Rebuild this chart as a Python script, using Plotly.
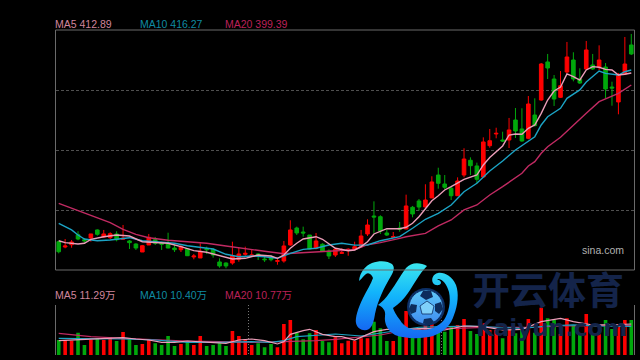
import base64
import plotly.graph_objects as go

# ---- price candles (one entry per trading day) ----
opens = [223.1,217.1,219.7,231.0,225.3,227.3,236.3,228.4,227.6,231.8,225.8,223.9,220.5,211.5,219.4,225.3,221.6,220.5,216.0,214.1,
         215.2,205.9,204.8,215.2,214.5,200.3,199.1,199.1,203.3,208.9,207.3,209.3,203.6,205.1,201.0,201.4,219.4,238.5,234.0,230.6,
         215.7,220.2,212.6,208.1,210.0,213.8,214.5,217.5,231.8,252.0,251.2,232.9,228.0,238.5,237.4,261.8,268.9,262.1,272.3,298.1,
         288.0,283.2,274.8,298.1,314.7,308.3,295.9,331.1,344.3,337.5,337.5,360.0,349.9,339.4,365.6,382.5,425.3,406.1,385.5,414.0,
         427.5,406.1,417.4,421.9,419.6,419.6,397.1,380.3,411.8,444.4]
highs = [224.2,226.1,225.0,234.8,226.9,231.8,237.0,236.3,233.7,234.8,241.9,225.0,221.3,219.4,231.8,228.4,223.1,233.2,220.2,219.4,
         216.0,209.3,221.3,217.5,215.7,204.4,199.9,223.1,216.3,217.5,213.8,210.0,206.2,207.8,204.8,223.9,247.2,240.0,240.0,230.6,
         232.9,221.3,214.5,215.7,215.7,215.7,223.1,236.3,248.3,268.5,252.8,237.0,234.0,245.3,276.0,263.3,271.1,287.7,296.7,306.3,
         298.1,285.0,295.5,328.2,318.0,312.0,340.5,349.9,351.3,346.8,362.3,373.5,373.2,387.0,384.4,424.1,434.3,410.6,415.1,447.8,
         436.2,418.2,448.9,434.3,444.0,424.1,403.1,412.9,453.4,456.8]
lows = [210.0,215.7,216.3,224.7,222.0,223.1,229.8,227.6,226.1,223.5,225.0,214.9,213.8,211.5,219.4,219.4,213.8,215.7,211.5,211.5,
        207.0,203.3,204.8,209.3,205.1,193.8,193.2,197.2,200.6,207.3,207.0,202.5,200.3,201.0,197.2,199.5,218.6,230.6,228.7,214.5,
        214.5,212.3,203.6,205.9,209.3,207.3,214.5,216.8,229.5,232.5,231.8,229.5,228.0,234.3,237.0,250.5,258.0,261.8,272.3,282.7,
        282.0,270.0,274.5,295.5,298.1,288.8,295.9,328.8,339.4,335.3,328.5,339.8,335.6,338.3,352.5,381.7,406.1,375.8,384.8,412.5,
        403.5,400.5,416.3,416.3,416.3,384.4,376.1,366.4,410.6,433.1]
closes = [211.8,218.3,222.8,226.1,223.9,231.8,231.4,231.8,232.1,225.3,226.9,222.0,216.0,218.6,228.0,221.3,220.2,216.0,214.1,217.5,
          207.3,207.0,212.3,214.1,208.1,195.8,195.8,207.3,209.3,210.0,208.1,207.3,202.8,202.8,201.7,218.3,236.3,232.9,232.9,214.9,
          223.9,212.6,207.0,214.5,210.7,214.5,217.5,229.5,241.9,250.9,235.1,230.6,228.7,237.0,263.3,254.3,262.1,270.0,290.3,288.8,
          284.3,274.8,291.4,316.1,308.6,293.3,335.3,336.7,345.0,336.4,348.8,347.6,336.4,378.0,353.8,423.0,418.5,383.6,398.6,430.9,
          406.1,401.6,438.8,417.4,427.5,394.9,396.0,410.6,423.0,434.3]

# ---- price moving averages: (day index, value) ----
ma5_days = [0,1,3,4,5,7,9,11,13,15,17,19,21,23,25,27,29,31,33,34,35,36,37,38,40,41,43,45,46,47,48,49,51,53,54,55,56,57,58,59,60,
            61,62,63,65,66,67,68,69,70,71,72,73,74,75,76,77,78,79,80,81,82,83,84,85,86,87,88,89]
ma5_vals = [224.2,222.0,220.5,221.3,225.8,228.7,230.6,229.5,223.1,222.4,221.3,217.5,213.0,211.2,207.0,203.6,204.4,208.1,207.0,204.4,
            208.1,215.7,221.3,226.1,228.7,225.8,215.7,213.0,213.8,217.5,223.1,231.8,237.7,237.7,239.3,243.8,251.2,260.7,269.2,274.8,
            281.3,285.0,288.8,293.3,298.1,309.4,317.8,324.3,330.8,343.1,344.3,343.9,350.7,354.4,367.5,382.5,392.6,397.1,411.8,408.7,
            405.0,416.3,420.0,419.3,417.0,416.3,410.6,411.4,412.89]
ma10_days = [0,2,3,4,6,8,11,13,15,18,20,22,24,26,28,30,32,34,36,38,40,42,44,46,48,50,52,53,55,57,59,61,63,65,67,69,71,73,74,75,76,
             78,79,81,82,84,85,87,88,89]
ma10_vals = [243.8,236.3,230.6,226.1,224.2,225.0,227.6,224.2,223.1,221.3,218.6,216.8,214.9,208.9,206.2,207.0,206.2,204.4,210.0,214.5,
             215.7,219.4,221.3,219.2,219.4,224.2,226.9,228.7,238.2,248.3,255.0,264.4,279.3,288.8,302.6,313.9,326.3,335.6,341.2,354.4,
             363.7,373.2,384.4,393.8,402.8,415.1,412.5,410.6,414.3,416.27]
ma20_days = [0,3,5,8,10,12,14,17,20,23,26,29,32,35,38,41,44,46,48,50,53,54,57,59,61,63,65,67,69,72,73,74,75,76,78,80,82,84,87,89]
ma20_vals = [266.3,258.0,252.0,244.5,237.0,231.4,227.6,224.7,223.1,221.3,218.3,215.7,212.3,209.6,210.7,212.3,212.6,214.1,219.7,222.0,
             226.9,228.7,232.5,240.8,247.5,258.8,264.4,275.6,285.0,300.0,308.3,313.1,322.5,330.0,340.5,354.4,367.5,380.6,390.0,399.39]

# ---- volume, in units of 10 000 ----
volumes = [5.46,5.46,5.22,8.13,3.64,5.46,6.07,5.46,6.43,5.10,8.38,5.71,3.64,4.01,5.46,4.25,3.64,6.92,3.28,4.01,
           4.61,3.64,6.92,3.28,3.64,4.25,3.28,8.74,6.92,5.71,3.64,4.25,2.79,4.01,2.79,11.29,12.75,8.13,5.71,7.89,
           9.11,5.10,4.61,6.43,4.25,5.22,5.22,6.07,6.07,12.14,9.71,5.10,5.10,6.92,16.02,9.11,9.71,11.53,11.53,10.56,
           8.50,10.32,10.93,13.11,8.74,7.65,11.53,9.11,9.11,6.07,9.11,7.89,9.11,13.11,8.13,17.24,13.35,12.75,7.65,13.35,
           10.93,7.28,14.93,7.89,8.13,12.75,9.47,10.93,12.75,12.75]
vma5_days = [0,2,4,7,10,12,14,16,18,20,23,26,28,30,32,34,35,36,38,39,41,43,44,46,49,51,54,57,60,63,66,69,72,75,78,80,83,86,89]
vma5_vals = [5.22,5.46,5.83,6.07,6.31,5.83,5.46,4.61,4.61,5.10,4.61,4.25,5.46,5.83,5.22,4.01,4.86,7.53,8.86,9.35,7.53,6.68,6.68,5.46,
             8.50,9.35,9.35,9.71,9.10,10.56,10.32,9.10,9.35,12.14,13.35,12.14,10.93,10.93,11.29]
vma10_days = [0,5,10,15,20,25,30,33,35,37,40,43,47,50,53,56,60,64,68,72,76,80,84,89]
vma10_vals = [6.07,6.07,5.83,5.46,4.61,4.61,4.86,4.61,5.22,6.68,7.04,7.65,6.92,7.89,9.10,10.10,10.30,10.56,10.10,9.71,10.56,10.93,10.56,10.40]
vma20_days = [0,5,10,15,20,25,30,35,40,43,47,50,54,58,62,66,70,74,78,84,89]
vma20_vals = [7.89,6.68,6.07,5.46,5.10,4.86,4.61,4.86,5.22,5.71,6.68,7.28,9.10,9.71,9.71,10.08,10.08,10.08,10.56,10.56,10.77]

days = list(range(len(closes)))
RED, GREEN = "#fe0000", "#00a80c"
C5, C10, C20 = "#eb9db8", "#1ba3c4", "#c02a62"
T5, T10, T20 = "#d0859c", "#0f8ba3", "#bb2058"
GRID = "#505050"
FRAME = "#6a6a6a"

fig = go.Figure()
fig.add_trace(go.Candlestick(
    x=days, open=opens, high=highs, low=lows, close=closes, whiskerwidth=0,
    increasing=dict(line=dict(color=RED, width=1), fillcolor=RED),
    decreasing=dict(line=dict(color=GREEN, width=1), fillcolor=GREEN),
    xaxis="x", yaxis="y"))
for d, v, c in [(ma20_days, ma20_vals, C20), (ma10_days, ma10_vals, C10), (ma5_days, ma5_vals, C5)]:
    fig.add_trace(go.Scatter(x=d, y=v, mode="lines", line=dict(color=c, width=1.4), xaxis="x", yaxis="y"))

fig.add_trace(go.Bar(x=days, y=volumes, width=0.56,
                     marker=dict(color=[RED if c >= o else GREEN for o, c in zip(opens, closes)], line=dict(width=0)),
                     xaxis="x2", yaxis="y2"))
for d, v, c in [(vma20_days, vma20_vals, C20), (vma10_days, vma10_vals, C10), (vma5_days, vma5_vals, C5)]:
    fig.add_trace(go.Scatter(x=d, y=v, mode="lines", line=dict(color=c, width=1.2), xaxis="x2", yaxis="y2"))

DX = [55.5 / 640, 634.5 / 640]
fig.update_layout(
    width=640, height=360, margin=dict(l=0, r=0, t=0, b=0), autosize=False,
    paper_bgcolor="#000", plot_bgcolor="#000", showlegend=False, boxgap=0.2,
    xaxis=dict(domain=DX, range=[-0.5, 89.5], rangeslider=dict(visible=False), showgrid=False, zeroline=False,
               showticklabels=False, ticks=""),
    yaxis=dict(domain=[90 / 360, 330 / 360], range=[191.25, 461.25], tickvals=[258.75, 326.25, 393.75],
               showticklabels=False, ticks="", zeroline=False, showgrid=True, gridcolor=GRID, griddash="3px,2px", gridwidth=1),
    xaxis2=dict(domain=DX, range=[-0.5, 89.5], anchor="y2", tickvals=[29.5, 59.5], showticklabels=False, ticks="",
                zeroline=False, showgrid=True, gridcolor="#777", griddash="1px,2px", gridwidth=1),
    yaxis2=dict(domain=[5 / 360, 55 / 360], range=[0, 18.2], anchor="x2", tickvals=[0, 18.2], showticklabels=False, ticks="",
                zeroline=False, showgrid=True, gridcolor="#777", griddash="1px,2px", gridwidth=1),
)

# frames
fig.add_shape(type="rect", xref="paper", yref="paper", x0=DX[0], x1=DX[1], y0=90 / 360, y1=330 / 360,
              line=dict(color=FRAME, width=1))
for px in DX:
    fig.add_shape(type="line", xref="paper", yref="paper", x0=px, x1=px, y0=5 / 360, y1=55 / 360,
                  line=dict(color=FRAME, width=1))


def label(text, px, py, color, size=10.5, family="Liberation Sans, Noto Sans CJK SC", anchor="left"):
    fig.add_annotation(text=text, xref="paper", yref="paper", x=px / 640, y=1 - py / 360, xanchor=anchor, yanchor="middle",
                       showarrow=False, font=dict(color=color, size=size, family=family), borderpad=0, borderwidth=0)


label("MA5 412.89", 54.5, 24.5, T5)
label("MA10 416.27", 139.5, 24.5, T10)
label("MA20 399.39", 224.5, 24.5, T20)
label("MA5 11.29万", 54.5, 295, T5)
label("MA10 10.40万", 139.5, 295, T10)
label("MA20 10.77万", 224.5, 295, T20)
label("sina.com", 582, 250, "#b0b0b0", size=10.5)

# watermark artwork (the K and the ball)
svg = '''<svg xmlns="http://www.w3.org/2000/svg" width="640" height="360" viewBox="0 0 640 360">
<defs>
<linearGradient id="g" x1="0" y1="0" x2="0" y2="1"><stop offset="0" stop-color="#3be6ee"/><stop offset="0.45" stop-color="#12b4fb"/><stop offset="1" stop-color="#1568f2"/></linearGradient>
<linearGradient id="b" x1="0" y1="0" x2="0" y2="1"><stop offset="0" stop-color="#5fc8f8"/><stop offset="1" stop-color="#3f8cf0"/></linearGradient>
</defs>
<path fill="url(#g)" d="M359 281 C360 272 365 266 372 263 C380 260 388 261 392 264 C395 267 394 271 391 276 C384 288 378 300 375 314 C374 320 373 326 369 329 C364 332 357 329 356 323 C355 318 358 308 363 298 C367 290 371 284 373 278 C372 275 369 272 366 274 C363 276 362 279 359 281 Z"/>
<path fill="url(#g)" d="M427 266 C420 262 411 262 406 268 C400 276 396 284 390 292 C386 298 382 302 378 305 C383 307 386 311 385 316 C384 324 388 331 395 335 C405 339 422 339 433 336 C444 332 451 325 454 315 C458 305 459 293 456 285 C452 276 444 272 438 273 C433 274 431 279 433 283 C435 286 440 286 441 283 C441 280 438 280 437 279 C442 278 447 284 449 292 C451 302 449 312 444 320 C438 327 430 330 420 330 C411 330 404 327 400 320 C396 315 394 311 393 308 C399 304 404 299 408 293 C413 286 419 274 427 266 Z"/>
<circle cx="426" cy="307" r="19" fill="#0c2f66"/>
<circle cx="426" cy="307" r="17" fill="url(#b)" stroke="#0c2f66" stroke-width="1"/>
<polygon fill="#7fd0fa" stroke="#0c2f66" stroke-width="0.8" points="427,301 434,306 432,314 422,314 420,306"/>
<polygon fill="#0d2c5c" points="423,291 431,291 433,297 426,300 420,296"/>
<polygon fill="#0d2c5c" points="435,304 441,302 443,309 439,314 435,311"/>
<polygon fill="#0d2c5c" points="411,304 417,305 416,312 411,314 409,309"/>
<polygon fill="#0d2c5c" points="424,319 431,318 434,322 428,325 423,323"/>
</svg>'''
fig.add_layout_image(dict(source="data:image/svg+xml;base64," + base64.b64encode(svg.encode()).decode(),
                          xref="paper", yref="paper", x=0, y=1, sizex=1, sizey=1, xanchor="left", yanchor="top",
                          sizing="stretch", layer="above"))

NAVY = "#14244a"
label("<b>开云体育</b>", 547.5, 287, NAVY, size=38, family="Noto Sans CJK SC", anchor="center")
label("<b>Kaiyun.com</b>", 551, 328, NAVY, size=23, family="DejaVu Sans", anchor="center")

fig.write_html("out.html", config=dict(displayModeBar=False),
               post_script="document.body.style.margin='0';document.body.style.background='#000';document.body.style.overflow='hidden';")
